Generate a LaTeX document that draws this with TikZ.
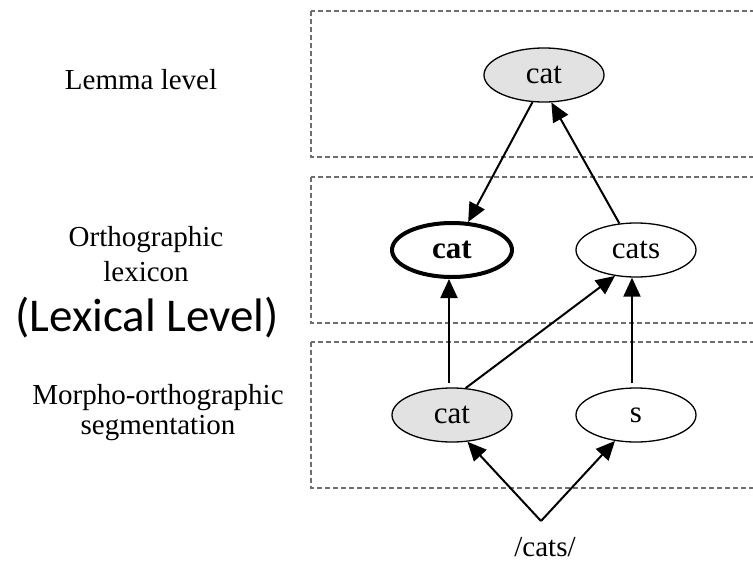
\documentclass[tikz,border=0pt]{standalone}
\usepackage{fontspec}
\setmainfont{Liberation Serif}
\newfontfamily\lexfont{Carlito}
\usetikzlibrary{shapes.geometric,arrows.meta}
\definecolor{nodefill}{HTML}{E2E2E2}
\definecolor{boxgray}{HTML}{6E6E6E}
\tikzset{
  levelbox/.style={draw=boxgray, line width=1.4pt, dash pattern=on 5pt off 3pt},
  unit/.style={ellipse, draw, line width=1.3pt, minimum width=120pt, minimum height=54pt,
    inner sep=0pt, font=\fontsize{31}{37}\selectfont},
  shaded/.style={unit, fill=nodefill},
  active/.style={unit, line width=4pt, font=\fontsize{31}{37}\selectfont\bfseries},
  label/.style={anchor=base, inner sep=0pt, font=\fontsize{29}{35}\selectfont},
  link/.style={line width=2pt, -{Triangle[length=19pt,width=17pt]}}
}
\begin{document}
\begin{tikzpicture}[x=1pt,y=-1pt]
  \useasboundingbox (0,0) rectangle (753,563);
  \clip (0,0) rectangle (753,563);
  \fill[white] (0,0) rectangle (753,563);

  % three level frames, running off the right edge
  \draw[levelbox] (311,11) rectangle (775,157);
  \draw[levelbox] (311,177) rectangle (775,323);
  \draw[levelbox] (311,342) rectangle (775,488);

  % level names
  \node[label] (lemmaname) at (141,89) {Lemma level};
  \node[label] (orthname1) at (146,246) {Orthographic};
  \node[label] (orthname2) at (146,281) {lexicon};
  \node[anchor=base, inner sep=0pt, font=\lexfont\fontsize{47}{56}\selectfont] (lexname) at (147,331) {(Lexical Level)};
  \node[label] (morphname1) at (158,404) {Morpho-orthographic};
  \node[label] (morphname2) at (158,434) {segmentation};

  % units
  \node[shaded] (lemma) at (544,75) {cat};
  \node[active] (ocat) at (452,250) {cat};
  \node[unit] (ocats) at (636,250) {cats};
  \node[shaded] (mcat) at (452,415) {cat};
  \node[unit] (ms) at (636,415) {s};
  \node[label] (word) at (545,556) {/cats/};

  % connections
  \draw[link] (lemma.247) -- (ocat.60);
  \draw[link] (ocats.122) -- (lemma.285);
  \draw[link] ([xshift=-3pt,yshift=4pt]mcat.north) -- ([xshift=-3pt]ocat.south);
  \draw[link] (mcat.63) -- (ocats.231);
  \draw[link] ([xshift=-4pt,yshift=4pt]ms.north) -- ([xshift=-4pt]ocats.south);
  \draw[link] ([xshift=-4pt,yshift=35pt]word.base) -- (mcat.300);
  \draw[link] ([xshift=-4pt,yshift=35pt]word.base) -- (ms.231);
\end{tikzpicture}
\end{document}
